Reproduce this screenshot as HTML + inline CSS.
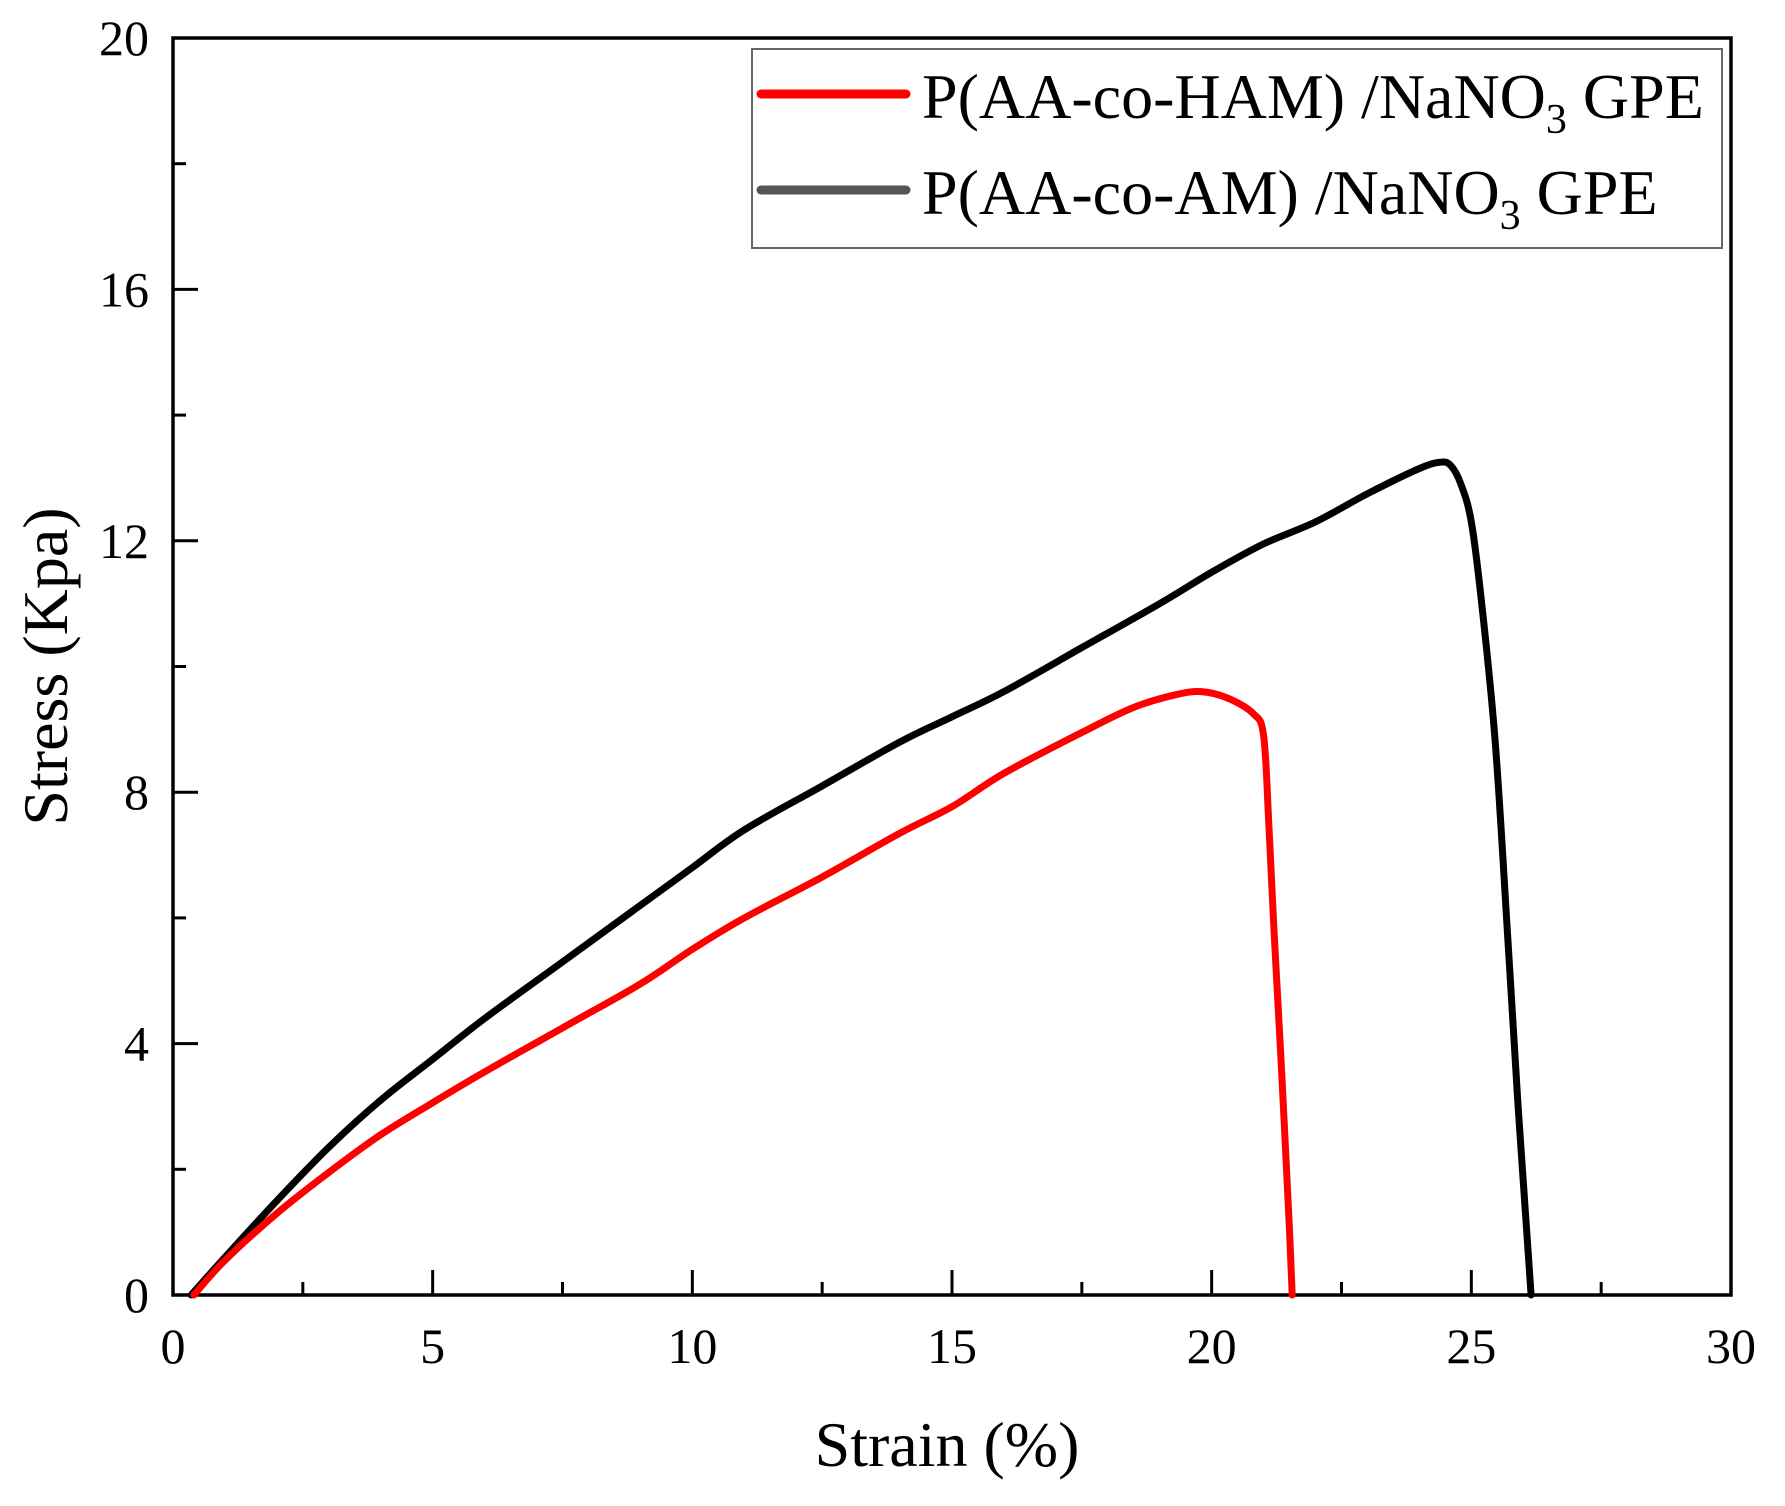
<!DOCTYPE html>
<html><head><meta charset="utf-8"><style>
html,body{margin:0;padding:0;background:#fff;}
svg{display:block;font-family:"Liberation Serif",serif;}
</style></head><body>
<svg id="chart" width="1785" height="1506" viewBox="0 0 1785 1506"></svg>
<script>
const xTicks=[0,5,10,15,20,25,30];
const yTicks=[0,4,8,12,16,20];
const hamStrain=[0.4,1,2,3,4,5,6,7.5,9,10,11,12.5,14,15,16,17.5,18.5,19.3,19.8,20.3,20.8,21.0,21.1,21.2,21.35,21.5,21.55];
const hamStress=[0,0.55,1.3,1.95,2.55,3.06,3.55,4.25,4.95,5.5,6.0,6.65,7.35,7.77,8.3,8.95,9.35,9.55,9.6,9.5,9.25,8.9,7.5,5.8,3.5,1.0,0];
const amStrain=[0.35,1,2,3,4,5,6,7.5,9,10,11,12.5,14,15,16,17.5,19,20,21,22,23,24,24.4,24.6,24.8,25.0,25.2,25.46,25.7,25.9,26.05,26.15];
const amStress=[0,0.6,1.5,2.35,3.1,3.75,4.4,5.3,6.2,6.8,7.4,8.1,8.8,9.2,9.6,10.3,11.0,11.5,11.95,12.3,12.75,13.15,13.25,13.2,12.9,12.3,11.0,8.8,5.7,3.0,1.2,0];
const L=173,R=1731,T=38,B=1295;
const sx=v=>L+(v-0)/30*(R-L);
const sy=v=>B-(v-0)/20*(B-T);
const NS="http://www.w3.org/2000/svg";
const svg=document.getElementById('chart');
function mk(tag,attrs,parent){const e=document.createElementNS(NS,tag);for(const k in attrs)e.setAttribute(k,attrs[k]);(parent||svg).appendChild(e);return e;}
const frame=mk('rect',{x:L,y:T,width:R-L,height:B-T,fill:'none',stroke:'#000','stroke-width':3.5});


xTicks.forEach(v=>{
  const t=mk('line',{x1:sx(v),x2:sx(v),y1:B,y2:B-25,stroke:'#000','stroke-width':3});
  
  
  const lb=mk('text',{x:sx(v),y:B+68,'font-size':50,'text-anchor':'middle',fill:'#000'});
  lb.textContent=v;
  
  
  if(v<30){const m=mk('line',{x1:sx(v+2.5),x2:sx(v+2.5),y1:B,y2:B-13,stroke:'#000','stroke-width':3});
  
  }
});
yTicks.forEach(v=>{
  const t=mk('line',{x1:L,x2:L+25,y1:sy(v),y2:sy(v),stroke:'#000','stroke-width':3});
  
  
  const lb=mk('text',{x:L-24,y:sy(v)+17,'font-size':50,'text-anchor':'end',fill:'#000'});
  lb.textContent=v;
  
  
  if(v<20){const m=mk('line',{x1:L,x2:L+13,y1:sy(v+2),y2:sy(v+2),stroke:'#000','stroke-width':3});
  
  }
});
const xt=mk('text',{x:(L+R)/2-5,y:1466,'font-size':64,'text-anchor':'middle',fill:'#000'});
xt.textContent='Strain (%)';


const yt=mk('text',{x:0,y:0,'font-size':64,'text-anchor':'middle',fill:'#000',transform:'translate(67,'+((T+B)/2)+') rotate(-90)'});
yt.textContent='Stress (Kpa)';


function series(xs,ys,color,name){
  const P=xs.map((x,i)=>[sx(x),sy(ys[i])]);
  let d='M'+P[0][0].toFixed(1)+','+P[0][1].toFixed(1);
  for(let i=0;i<P.length-1;i++){
    const p0=P[Math.max(0,i-1)],p1=P[i],p2=P[i+1],p3=P[Math.min(P.length-1,i+2)];
    const c1=[p1[0]+(p2[0]-p0[0])/6,p1[1]+(p2[1]-p0[1])/6];
    const c2=[p2[0]-(p3[0]-p1[0])/6,p2[1]-(p3[1]-p1[1])/6];
    d+=' C'+c1.map(n=>n.toFixed(1)).join(',')+' '+c2.map(n=>n.toFixed(1)).join(',')+' '+p2.map(n=>n.toFixed(1)).join(',');
  }
  const p=mk('path',{d:d,fill:'none',stroke:color,'stroke-width':7,'stroke-linejoin':'round','stroke-linecap':'round'});
  
  
}
series(amStrain,amStress,'#000','am-curve');
series(hamStrain,hamStress,'#f00','ham-curve');
const lg=mk('g',{});


mk('rect',{x:752,y:49,width:970,height:199,fill:'#fff',stroke:'#666','stroke-width':2},lg);
const entries=[['P(AA-co-HAM) /NaNO','#f00',94,792],['P(AA-co-AM) /NaNO','#555',190,752]];
entries.forEach(e=>{
  const ln=mk('line',{x1:761,x2:906,y1:e[2],y2:e[2],stroke:e[1],'stroke-width':9,'stroke-linecap':'round'},lg);
  
  
  const tx=mk('text',{x:922,y:e[2]+24,'font-size':64,fill:'#000'},lg);
  
  
  tx.appendChild(document.createTextNode(e[0]));
  const sub=document.createElementNS(NS,'tspan');sub.setAttribute('font-size',42);sub.setAttribute('dy',15);sub.textContent='3';tx.appendChild(sub);
  const rest=document.createElementNS(NS,'tspan');rest.setAttribute('dy',-15);rest.textContent=' GPE';tx.appendChild(rest);
});
</script>
</body></html>
